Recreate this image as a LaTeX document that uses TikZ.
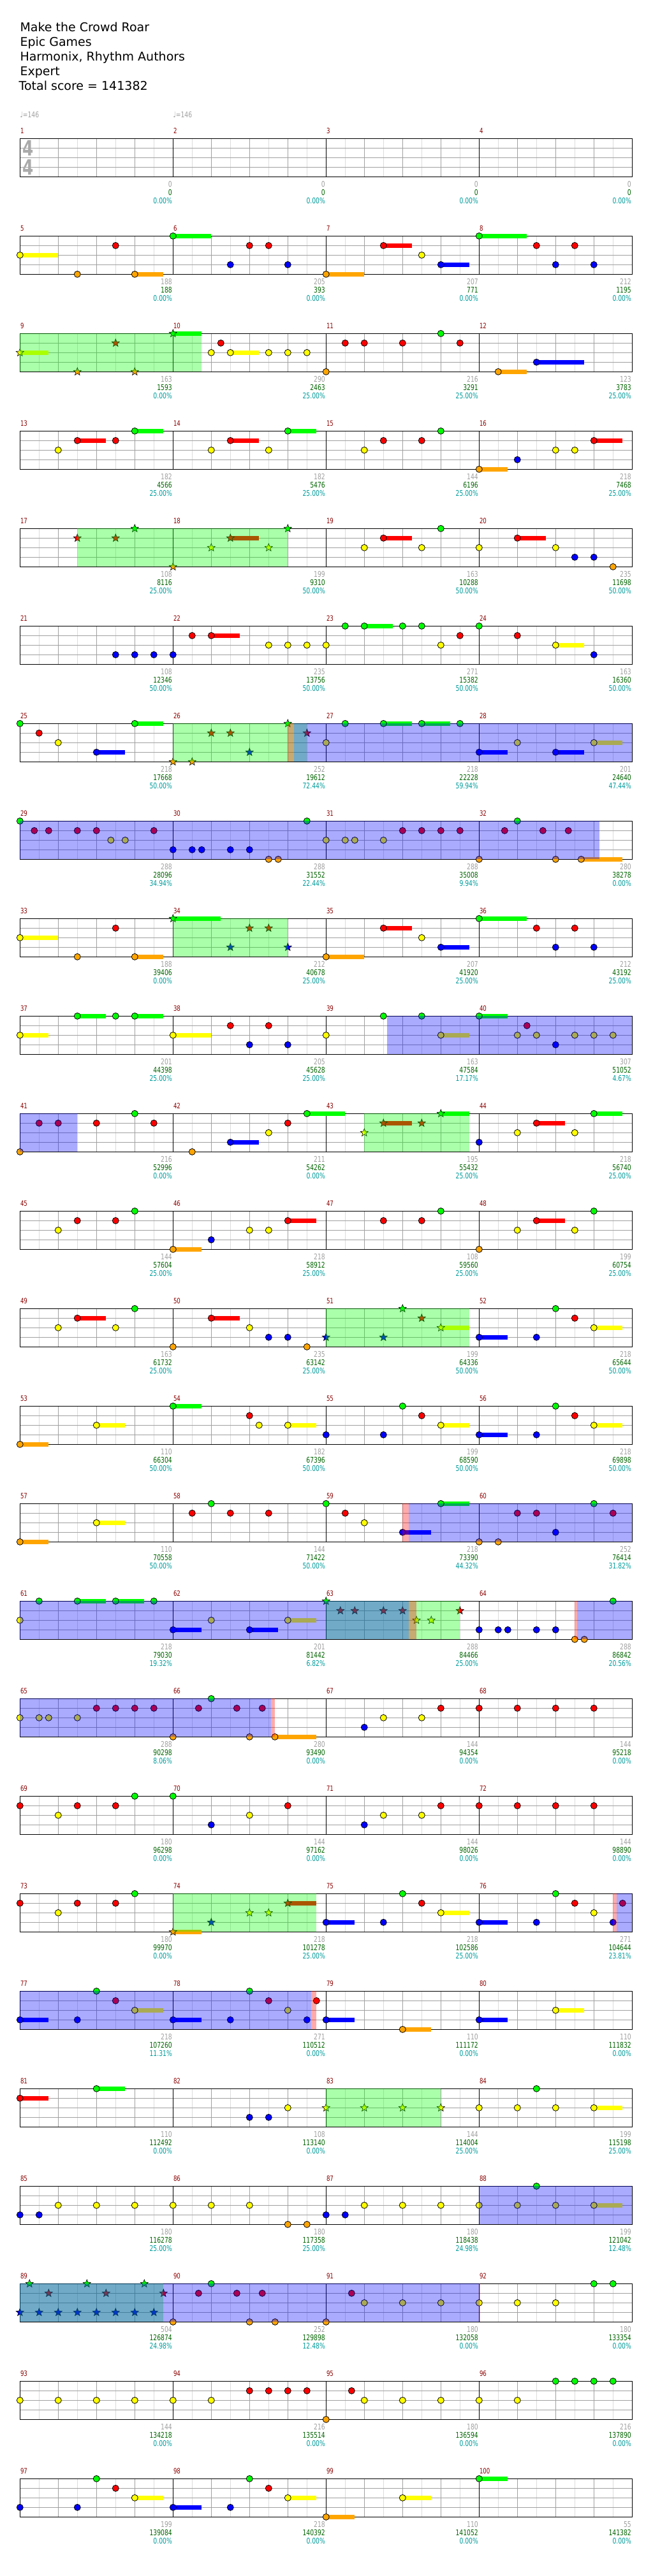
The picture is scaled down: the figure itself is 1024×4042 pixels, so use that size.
\documentclass[tikz,border=0pt]{standalone}
\usepackage{fontspec}
\setmainfont{DejaVu Sans}
\newfontfamily\numf[FakeStretch=0.75]{DejaVu Sans}
\definecolor{c0}{RGB}{0,255,0}
\definecolor{c1}{RGB}{255,0,0}
\definecolor{c2}{RGB}{255,255,0}
\definecolor{c3}{RGB}{0,0,255}
\definecolor{c4}{RGB}{255,165,0}
\definecolor{lightgr}{RGB}{220,220,220}
\definecolor{midgr}{RGB}{160,160,160}
\definecolor{numgray}{RGB}{160,160,160}
\definecolor{numgreen}{RGB}{0,100,0}
\definecolor{numteal}{RGB}{0,156,156}
\definecolor{mred}{RGB}{139,0,0}
\definecolor{tsgray}{RGB}{170,170,170}
% grid of one row
\newcommand\QG[1]{%
  \pgfmathsetmacro\QGy{-217.3-153*(#1-1)}%
  \foreach \j in {1,3,...,31}{\draw[lightgrid] ({31.3+30*\j},\QGy) -- ++(0,-60);}%
  \foreach \j in {2,4,...,30}{\draw[midgrid] ({31.3+30*\j},\QGy) -- ++(0,-60);}%
  \foreach \j in {1,2,3}{\draw[midgrid] (31.3,{\QGy-15*\j}) -- ++(960,0);}%
  \foreach \j in {8,16,24}{\draw[barline] ({31.3+30*\j},\QGy) -- ++(0,-60);}%
  \draw[barline] (31.3,\QGy) rectangle ++(960,-60);%
}
% note, sustain, star, region
\newcommand\QN[3]{\draw[notest,fill=c#3] ({31.3+15*(#2)},{-217.3-153*(#1-1)-15*(#3)}) circle[radius=5.0];}
\newcommand\QS[4]{\fill[c#3] ({31.3+15*(#2)},{-217.3-153*(#1-1)-15*(#3)+3.3}) rectangle ({31.3+15*(#4)},{-217.3-153*(#1-1)-15*(#3)-3.3});}
\newcommand\QT[3]{\draw[starst,fill=c#3] ({31.3+15*(#2)},{-217.3-153*(#1-1)-15*(#3)}) +(90:6.4) -- +(126:2.7) -- +(162:6.4) -- +(198:2.7) -- +(234:6.4) -- +(270:2.7) -- +(306:6.4) -- +(342:2.7) -- +(18:6.4) -- +(54:2.7) -- cycle;}
\newcommand\QR[4]{\fill[#4,fill opacity=0.3333] ({31.3+15*(#2)},{-217.3-153*(#1-1)}) rectangle ({31.3+15*(#3)},{-277.3-153*(#1-1)});}
\newcommand\QNL[2]{\foreach \p/\l in {#2}{\edef\QTmp{\noexpand\QN{#1}{\p}{\l}}\QTmp}}
\newcommand\QTL[2]{\foreach \p/\l in {#2}{\edef\QTmp{\noexpand\QT{#1}{\p}{\l}}\QTmp}}
\newcommand\QSL[2]{\foreach \p/\l/\e in {#2}{\edef\QTmp{\noexpand\QS{#1}{\p}{\l}{\e}}\QTmp}}
\begin{document}
\begin{tikzpicture}[x=1pt,y=1pt,
  lightgrid/.style={draw=lightgr,line width=1pt},
  midgrid/.style={draw=midgr,line width=1pt},
  barline/.style={draw=black,line width=1.2pt},
  notest/.style={draw=black,line width=0.8pt},
  starst/.style={draw=black,line width=0.6pt,line join=miter},
  titlest/.style={font=\fontsize{19}{23}\selectfont,text=black,inner sep=0pt,anchor=base west},
  numg/.style={font=\numf\fontsize{12.3}{14}\selectfont,text=numgray,inner sep=0pt,anchor=base east},
  numd/.style={font=\numf\fontsize{12.3}{14}\selectfont,text=numgreen,inner sep=0pt,anchor=base east},
  nump/.style={font=\numf\fontsize{12.3}{14}\selectfont,text=numteal,inner sep=0pt,anchor=base east},
  mnum/.style={font=\numf\fontsize{11.5}{13}\selectfont,text=mred,inner sep=0pt,anchor=base west},
  tempo/.style={font=\numf\fontsize{12.3}{14}\selectfont,text=numgray,inner sep=0pt,anchor=base west},
  tsig/.style={font=\numf\bfseries\fontsize{33}{36}\selectfont,text=tsgray,inner sep=0pt}]
\useasboundingbox (0,0) rectangle (1024,-4042);
\fill[white] (0,0) rectangle (1024,-4042);
% title
\node[titlest] (t1) at (31.3,-49.3) {Make the Crowd Roar};
\node[titlest] (t2) at (31.3,-72.3) {Epic Games};
\node[titlest] (t3) at (31.3,-95.3) {Harmonix, Rhythm Authors};
\node[titlest] (t4) at (31.3,-118.3) {Expert};
\node[titlest] (t5) at (29.5,-141.5) {Total score = 141382};
\node[tempo] (tp1) at (31.3,-184.3) {♩=146};
\node[tempo] (tp2) at (271.3,-184.3) {♩=146};
% grids
\foreach \k in {1,...,25}{\QG{\k}}
\node[tsig] (ts1) at (44.5,-232.3) {4};
\node[tsig] (ts2) at (44.5,-262.3) {4};
% row 2
\QSL{2}{0/2/4,12/4/15,16/0/20,32/4/36,38/1/41,44/3/47,48/0/53}
\QNL{2}{0/2,6/4,10/1,12/4,16/0,22/3,24/1,26/1,28/3,32/4,38/1,42/2,44/3,48/0,54/1,56/3,58/1,60/3}
% row 3
\QSL{3}{0/2/3,16/0/19,22/2/25,50/4/53,54/3/59}
\QTL{3}{0/2,6/4,10/1,12/4,16/0}
\QNL{3}{20/2,21/1,22/2,26/2,28/2,30/2,32/4,34/1,36/1,40/1,44/0,46/1,50/4,54/3}
\QR{3}{0}{19}{c0}
% row 4
\QSL{4}{6/1/9,12/0/15,22/1/25,28/0/31,48/4/51,60/1/63}
\QNL{4}{4/2,6/1,10/1,12/0,20/2,22/1,26/2,28/0,36/2,38/1,42/1,44/0,48/4,52/3,56/2,58/2,60/1}
% row 5
\QSL{5}{22/1/25,38/1/41,52/1/55}
\QTL{5}{6/1,10/1,12/0,16/4,20/2,22/1,26/2,28/0}
\QNL{5}{36/2,38/1,42/2,44/0,48/2,52/1,56/2,58/3,60/3,62/4}
\QR{5}{6}{28}{c0}
% row 6
\QSL{6}{20/1/23,36/0/39,56/2/59}
\QNL{6}{10/3,12/3,14/3,16/3,18/1,20/1,26/2,28/2,30/2,32/2,34/0,36/0,40/0,42/0,44/2,46/1,48/0,52/1,56/2,60/3}
% row 7
\QSL{7}{8/3/11,12/0/15,38/0/41,42/0/45,48/3/51,56/3/59,60/2/63}
\QNL{7}{0/0,2/1,4/2,8/3,12/0,32/2,34/0,38/0,42/0,46/0,48/3,52/2,56/3,60/2}
\QTL{7}{16/4,18/4,20/1,22/1,24/3,28/0,30/1}
\QR{7}{16}{30}{c0}
\QR{7}{28}{28.65}{c1}
\QR{7}{28.65}{64}{c3}
% row 8
\QSL{8}{58.67/4/63}
\QNL{8}{0/0,1.5/1,3/1,6/1,8/1,14/1,9.5/2,11/2,16/3,18/3,19/3,22/3,24/3,26/4,27/4,30/0,32/2,34/2,35/2,38/2,40/1,42/1,44/1,46/1,48/4,50.67/1,52/0,54.67/1,57.33/1,56/4,58.67/4}
\QR{8}{0}{60.6}{c3}
% row 9
\QSL{9}{0/2/4,12/4/15,16/0/21,32/4/36,38/1/41,44/3/47,48/0/53}
\QNL{9}{0/2,6/4,10/1,12/4,32/4,38/1,42/2,44/3,48/0,54/1,56/3,58/1,60/3}
\QTL{9}{16/0,22/3,24/1,26/1,28/3}
\QR{9}{16}{28}{c0}
% row 10
\QSL{10}{0/2/3,6/0/9,12/0/15,16/2/20,44/2/47,48/0/51}
\QNL{10}{0/2,6/0,10/0,12/0,16/2,22/1,24/3,26/1,28/3,32/2,38/0,42/0,44/2,48/0,53/1,52/2,54/2,58/2,60/2,62/2,56/3}
\QR{10}{38.35}{64}{c3}
% row 11
\QSL{11}{22/3/25,30/0/34,38/1/41,44/0/47,54/1/57,60/0/63}
\QNL{11}{0/4,2/1,4/1,8/1,12/0,14/1,18/4,22/3,26/2,28/1,30/0,48/3,52/2,54/1,58/2,60/0}
\QTL{11}{36/2,38/1,42/1,44/0}
\QR{11}{36}{47}{c0}
\QR{11}{0}{6}{c3}
% row 12
\QSL{12}{16/4/19,28/1/31,54/1/57}
\QNL{12}{4/2,6/1,10/1,12/0,16/4,20/3,24/2,26/2,28/1,38/1,42/1,44/0,48/4,52/2,54/1,58/2,60/0}
% row 13
\QSL{13}{6/1/9,20/1/23,44/2/47,48/3/51,60/2/63}
\QNL{13}{4/2,6/1,10/2,12/0,16/4,20/1,24/2,26/3,28/3,30/4,48/3,54/3,56/0,58/1,60/2}
\QTL{13}{32/3,38/3,40/0,42/1,44/2}
\QR{13}{32}{47}{c0}
% row 14
\QSL{14}{0/4/3,8/2/11,16/0/19,28/2/31,44/2/47,48/3/51,60/2/63}
\QNL{14}{0/4,8/2,16/0,24/1,25/2,28/2,32/3,38/3,40/0,42/1,44/2,48/3,54/3,56/0,58/1,60/2}
% row 15
\QSL{15}{0/4/3,8/2/11,40/3/43,44/0/47}
\QNL{15}{0/4,8/2,18/1,20/0,22/1,26/1,32/0,34/1,36/2,40/3,44/0,48/4,50/4,52/1,54/1,62/1,56/3,60/0}
\QR{15}{40}{40.65}{c1}
\QR{15}{40.65}{64}{c3}
% row 16
\QSL{16}{6/0/9,10/0/13,16/3/19,24/3/27,28/2/31}
\QNL{16}{0/2,2/0,6/0,10/0,14/0,16/3,20/2,24/3,28/2,48/3,50/3,51/3,54/3,56/3,58/4,59/4,62/0}
\QTL{16}{32/0,33.5/1,35/1,38/1,40/1,41.45/2,43/2,46/1}
\QR{16}{32}{46}{c0}
\QR{16}{0}{40.65}{c3}
\QR{16}{40.65}{41.45}{c1}
\QR{16}{58}{58.25}{c1}
\QR{16}{58.25}{64}{c3}
% row 17
\QSL{17}{26.65/4/31}
\QNL{17}{0/2,2/2,3/2,6/2,8/1,10/1,12/1,14/1,16/4,18.67/1,20/0,22.67/1,25.33/1,24/4,26.65/4,36/3,38/2,42/2,44/1,48/1,52/1,56/1,60/1}
\QR{17}{0}{26.25}{c3}
\QR{17}{26.25}{26.65}{c1}
% row 18
\QNL{18}{0/1,4/2,6/1,10/1,12/0,16/0,20/3,24/2,28/1,36/3,38/2,42/2,44/1,48/1,52/1,56/1,60/1}
% row 19
\QSL{19}{16/4/19,28/1/31,32/3/35,44/2/47,48/3/51}
\QNL{19}{0/1,4/2,6/1,10/1,12/0,32/3,38/3,40/0,42/1,44/2,48/3,54/3,56/0,58/1,60/2,62/3,63/1}
\QTL{19}{16/4,20/3,24/2,26/2,28/1}
\QR{19}{16}{31}{c0}
\QR{19}{62}{62.4}{c1}
\QR{19}{62.4}{64}{c3}
% row 20
\QSL{20}{0/3/3,12/2/15,16/3/19,32/3/35,40/4/43,48/3/51,56/2/59}
\QNL{20}{0/3,6/3,8/0,10/1,12/2,16/3,22/3,24/0,26/1,28/2,30/3,31/1,32/3,40/4,48/3,56/2}
\QR{20}{0}{30.43}{c3}
\QR{20}{30.43}{31}{c1}
% row 21
\QSL{21}{0/1/3,8/0/11,60/2/63}
\QNL{21}{0/1,8/0,24/3,26/3,28/2,48/2,52/2,54/0,56/2,60/2}
\QTL{21}{32/2,36/2,40/2,44/2}
\QR{21}{32}{44}{c0}
% row 22
\QSL{22}{60/2/63}
\QNL{22}{0/3,2/3,4/2,8/2,12/2,16/2,20/2,24/2,28/4,30/4,32/3,34/3,36/2,40/2,44/2,48/2,52/2,54/0,56/2,60/2}
\QR{22}{48}{64}{c3}
% row 23
\QNL{23}{16/4,18.67/1,20/0,22.67/1,25.33/1,24/4,26.67/4,32/4,34.67/1,36/2,40/2,44/2,48/2,52/2,56/2,60/0,62/0}
\QTL{23}{1/0,7/0,13/0,3/1,9/1,15/1,0/3,2/3,4/3,6/3,8/3,10/3,12/3,14/3}
\QR{23}{0}{15}{c0}
\QR{23}{0}{48}{c3}
\QR{23}{48}{48.12}{c1}
% row 24
\QNL{24}{0/2,4/2,8/2,12/2,16/2,20/2,24/1,26/1,28/1,30/1,32/4,34.67/1,36/2,40/2,44/2,48/2,52/2,56/0,58/0,60/0,62/0}
% row 25
\QSL{25}{12/2/15,16/3/19,28/2/31,32/4/35,40/2/43,48/0/51}
\QNL{25}{0/3,6/3,8/0,10/1,12/2,16/3,22/3,24/0,26/1,28/2,32/4,40/2,48/0}
% measure numbers
\foreach \m in {1,...,100}{%
  \pgfmathtruncatemacro\QRk{int((\m-1)/4)}%
  \pgfmathtruncatemacro\QCj{\m-1-4*\QRk}%
  \node[mnum] (mn\m) at ({31.8+240*\QCj},{-209.7-153*\QRk}) {\m};}
% scores
\foreach \m/\a/\b/\c in {1/0/0/0.00,2/0/0/0.00,3/0/0/0.00,4/0/0/0.00,
5/188/188/0.00,6/205/393/0.00,7/207/771/0.00,8/212/1195/0.00,
9/163/1593/0.00,10/290/2463/25.00,11/216/3291/25.00,12/123/3783/25.00,
13/182/4566/25.00,14/182/5476/25.00,15/144/6196/25.00,16/218/7468/25.00,
17/108/8116/25.00,18/199/9310/50.00,19/163/10288/50.00,20/235/11698/50.00,
21/108/12346/50.00,22/235/13756/50.00,23/271/15382/50.00,24/163/16360/50.00,
25/218/17668/50.00,26/252/19612/72.44,27/218/22228/59.94,28/201/24640/47.44,
29/288/28096/34.94,30/288/31552/22.44,31/288/35008/9.94,32/280/38278/0.00,
33/188/39406/0.00,34/212/40678/25.00,35/207/41920/25.00,36/212/43192/25.00,
37/201/44398/25.00,38/205/45628/25.00,39/163/47584/17.17,40/307/51052/4.67,
41/216/52996/0.00,42/211/54262/0.00,43/195/55432/25.00,44/218/56740/25.00,
45/144/57604/25.00,46/218/58912/25.00,47/108/59560/25.00,48/199/60754/25.00,
49/163/61732/25.00,50/235/63142/25.00,51/199/64336/50.00,52/218/65644/50.00,
53/110/66304/50.00,54/182/67396/50.00,55/199/68590/50.00,56/218/69898/50.00,
57/110/70558/50.00,58/144/71422/50.00,59/218/73390/44.32,60/252/76414/31.82,
61/218/79030/19.32,62/201/81442/6.82,63/288/84466/25.00,64/288/86842/20.56,
65/288/90298/8.06,66/280/93490/0.00,67/144/94354/0.00,68/144/95218/0.00,
69/180/96298/0.00,70/144/97162/0.00,71/144/98026/0.00,72/144/98890/0.00,
73/180/99970/0.00,74/218/101278/25.00,75/218/102586/25.00,76/271/104644/23.81,
77/218/107260/11.31,78/271/110512/0.00,79/110/111172/0.00,80/110/111832/0.00,
81/110/112492/0.00,82/108/113140/0.00,83/144/114004/25.00,84/199/115198/25.00,
85/180/116278/25.00,86/180/117358/25.00,87/180/118438/24.98,88/199/121042/12.48,
89/504/126874/24.98,90/252/129898/12.48,91/180/132058/0.00,92/180/133354/0.00,
93/144/134218/0.00,94/216/135514/0.00,95/180/136594/0.00,96/216/137890/0.00,
97/199/139084/0.00,98/218/140392/0.00,99/110/141052/0.00,100/55/141382/0.00}{%
  \pgfmathtruncatemacro\QRk{int((\m-1)/4)}%
  \pgfmathtruncatemacro\QCj{\m-4*\QRk}%
  \pgfmathsetmacro\QXx{31.3+240*\QCj-1.3}%
  \pgfmathsetmacro\QYy{-277.3-153*\QRk}%
  \node[numg] (sa\m) at (\QXx,\QYy-16.4) {\a};
  \node[numd] (sb\m) at (\QXx,\QYy-29) {\b};
  \node[nump] (sc\m) at (\QXx,\QYy-42) {\c\%};}
\end{tikzpicture}
\end{document}
